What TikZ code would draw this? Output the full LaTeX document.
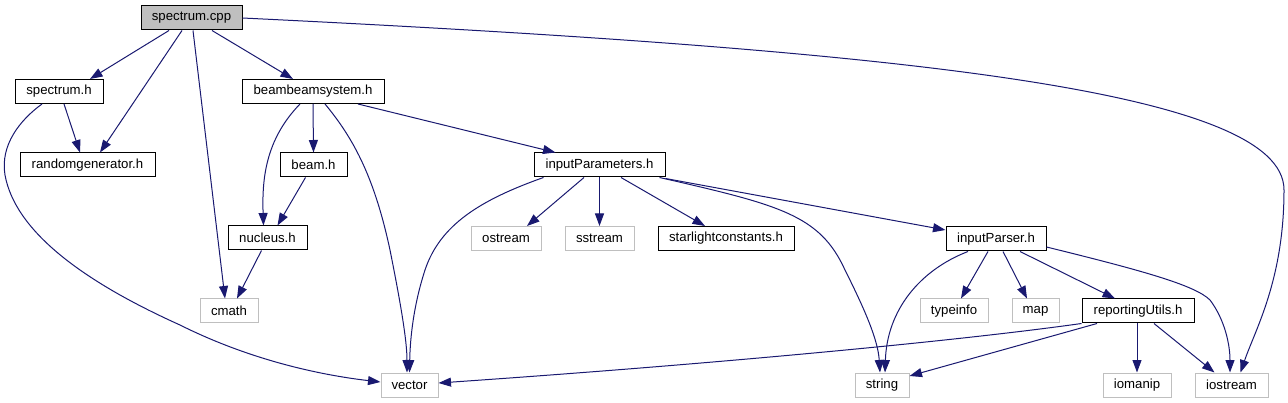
\documentclass[tikz,border=0pt]{standalone}
\usepackage{fontspec}
\setmainfont{Liberation Sans}
\usepackage{tikz}
\usetikzlibrary{arrows.meta}
\definecolor{edgeblue}{RGB}{25,25,112}
\definecolor{sysgray}{RGB}{191,191,191}

\begin{document}
\begin{tikzpicture}[
    x=1pt, y=-1pt,
    file/.style={draw=black, line width=1pt, inner sep=0pt, minimum height=24pt, font=\fontsize{13.2}{15}\selectfont},
    sys/.style={file, draw=sysgray},
    root/.style={file, fill=sysgray},
    arrow/.style={-{Triangle[length=12.5pt,width=9pt]}, line width=1pt, edgeblue}
]
    \useasboundingbox (0,0) rectangle (1288,403);

    % files of the project
    \node[root, minimum width=101pt] (cpp) at (191.5,18) {spectrum.cpp};
    \node[file, minimum width=88pt] (spech) at (59,91.5) {spectrum.h};
    \node[file, minimum width=135pt] (randg) at (87.5,165) {randomgenerator.h};
    \node[file, minimum width=142pt] (bbs) at (313,91.5) {beambeamsystem.h};
    \node[file, minimum width=67pt] (beam) at (313.5,165) {beam.h};
    \node[file, minimum width=79pt] (nucleus) at (267.5,238) {nucleus.h};
    \node[file, minimum width=131pt] (inpar) at (599.5,165) {inputParameters.h};
    \node[file, minimum width=136pt] (starl) at (726,238.5) {starlightconstants.h};
    \node[file, minimum width=100pt] (parser) at (996,239) {inputParser.h};
    \node[file, minimum width=112pt] (repu) at (1138,311) {reportingUtils.h};

    % system headers
    \node[sys, minimum width=58pt] (cmath) at (229,311) {cmath};
    \node[sys, minimum width=57pt] (vector) at (409.5,385) {vector};
    \node[sys, minimum width=70pt] (ostream) at (506,238.5) {ostream};
    \node[sys, minimum width=69pt] (sstream) at (599.5,238.5) {sstream};
    \node[sys, minimum width=54pt] (string) at (882,385) {string};
    \node[sys, minimum width=68pt] (typeinfo) at (954,311) {typeinfo};
    \node[sys, minimum width=47pt] (map) at (1035.5,311) {map};
    \node[sys, minimum width=68pt] (iomanip) at (1137,385) {iomanip};
    \node[sys, minimum width=73pt] (iostream) at (1231.5,385) {iostream};

    % spectrum.cpp
    \draw[arrow] ([xshift=-22.5pt]cpp.south) -- ([xshift=31pt]spech.north);
    \draw[arrow] ([xshift=-9.5pt]cpp.south) -- ([xshift=12.5pt]randg.north);
    \draw[arrow] ([xshift=1.5pt]cpp.south) -- ([xshift=-4pt]cmath.north);
    \draw[arrow] ([xshift=20.5pt]cpp.south) -- ([xshift=-20pt]bbs.north);
    \draw[arrow] (cpp.east) .. controls (900,50) and (1284,90) .. (1284,190)
        .. controls (1284,280) and (1255,330) .. ([xshift=9pt]iostream.north);

    % spectrum.h
    \draw[arrow] ([xshift=5pt]spech.south) -- ([xshift=-7.5pt]randg.north);
    \draw[arrow] ([xshift=-17pt]spech.south) .. controls (20,120) and (0,145) .. (5,175)
        .. controls (15,230) and (80,280) .. (180,325)
        .. controls (250,360) and (320,375) .. ([yshift=3pt]vector.west);

    % beambeamsystem.h
    \draw[arrow] (bbs.south) -- (beam.north);
    \draw[arrow] ([xshift=-13pt]bbs.south) .. controls (265,140) and (262,180) .. ([xshift=-4pt]nucleus.north);
    \draw[arrow] ([xshift=12pt]bbs.south) .. controls (355,140) and (375,180) .. (390,250)
        .. controls (400,300) and (407,340) .. ([xshift=-2.5pt]vector.north);
    \draw[arrow] ([xshift=45pt]bbs.south) -- ([xshift=-44pt]inpar.north);
    \draw[arrow] ([xshift=-8pt]beam.south) -- ([xshift=10pt]nucleus.north);
    \draw[arrow] ([xshift=-6pt]nucleus.south) -- ([xshift=8pt]cmath.north);

    % inputParameters.h
    \draw[arrow] ([xshift=-56pt]inpar.south) .. controls (480,200) and (440,225) .. (425,270)
        .. controls (412,310) and (410,345) .. (vector.north);
    \draw[arrow] ([xshift=-15.5pt]inpar.south) -- ([xshift=21pt]ostream.north);
    \draw[arrow] (inpar.south) -- (sstream.north);
    \draw[arrow] ([xshift=21.5pt]inpar.south) -- ([xshift=-21pt]starl.north);
    \draw[arrow] ([xshift=60pt]inpar.south) .. controls (780,205) and (820,215) .. (845,270)
        .. controls (865,310) and (878,340) .. ([xshift=-2pt]string.north);
    \draw[arrow] ([yshift=-1pt]inpar.south east) -- ([yshift=9pt]parser.west);

    % inputParser.h
    \draw[arrow] ([xshift=-28pt]parser.south) .. controls (920,270) and (887,310) .. ([xshift=3pt]string.north);
    \draw[arrow] ([xshift=-8pt]parser.south) -- ([xshift=7pt]typeinfo.north);
    \draw[arrow] ([xshift=7pt]parser.south) -- ([xshift=-8.5pt]map.north);
    \draw[arrow] ([xshift=24pt]parser.south) -- ([xshift=-23pt]repu.north);
    \draw[arrow] ([yshift=-8pt]parser.east) .. controls (1140,270) and (1195,285) .. (1210,300)
        .. controls (1225,320) and (1230,345) .. ([xshift=-1.5pt]iostream.north);

    % reportingUtils.h
    \draw[arrow] (repu.south west) .. controls (950,342) and (700,365) .. ([yshift=2pt]vector.east);
    \draw[arrow] ([xshift=-41pt]repu.south) -- ([yshift=9pt]string.east);
    \draw[arrow] ([xshift=-1pt]repu.south) -- (iomanip.north);
    \draw[arrow] ([xshift=16pt]repu.south) -- ([xshift=-17pt]iostream.north);
\end{tikzpicture}
\end{document}
